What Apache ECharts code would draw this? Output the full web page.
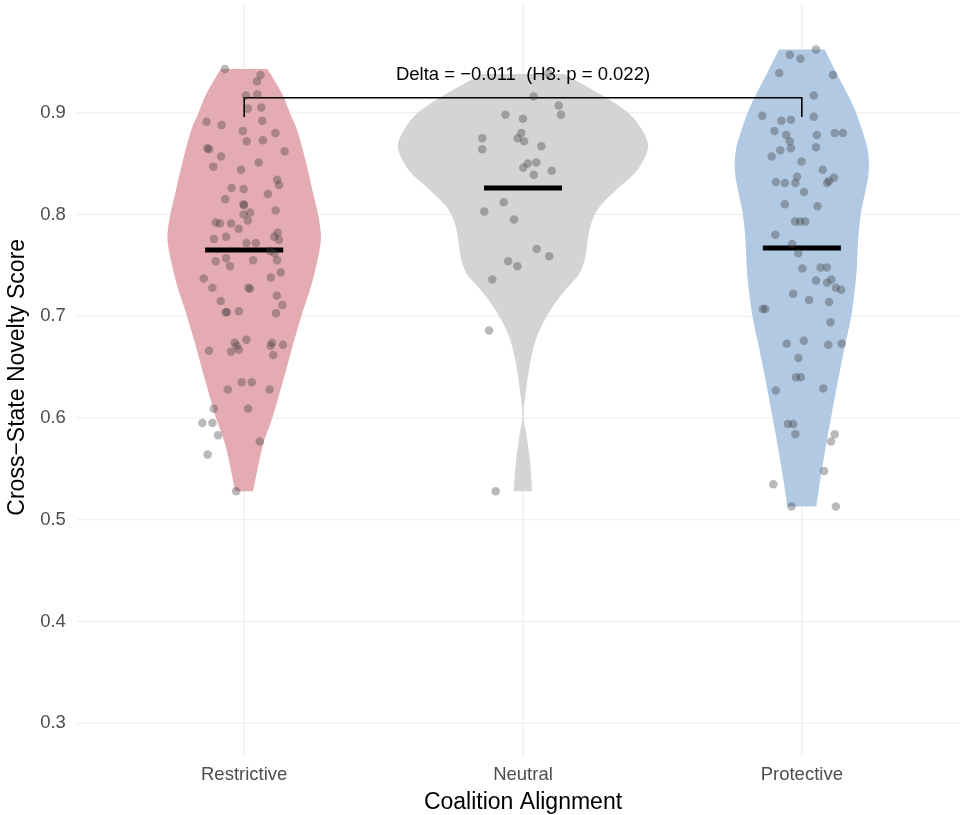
<!DOCTYPE html>
<html><head><meta charset="utf-8">
<script src="https://cdn.jsdelivr.net/npm/echarts@6/dist/echarts.min.js"></script>
<style>html,body{margin:0;padding:0;background:#fff}#c{width:960px;height:815px}</style>
</head><body><div id="c"></div>
<script>
const categories = ['Restrictive', 'Neutral', 'Protective'];
const yTicks = [0.3, 0.4, 0.5, 0.6, 0.7, 0.8, 0.9];
const medians = [0.765, 0.826, 0.767];
const fills = ['#E4ABB3', '#D4D4D4', '#B1C9E2'];

// violin outlines: [y, half width in category units]
const violinRestrictive = [[0.943,0.084],[0.919,0.135],[0.899,0.165],[0.886,0.186],[0.870,0.204],[0.854,0.219],[0.837,0.234],[0.821,0.247],[0.800,0.265],[0.781,0.275],[0.768,0.272],[0.755,0.263],[0.740,0.250],[0.726,0.236],[0.700,0.205],[0.670,0.173],[0.637,0.140],[0.601,0.102],[0.572,0.066],[0.528,0.032]];
const violinNeutral = [[0.938,0.147],[0.916,0.291],[0.900,0.377],[0.885,0.423],[0.870,0.448],[0.860,0.443],[0.850,0.425],[0.840,0.399],[0.824,0.334],[0.808,0.276],[0.795,0.250],[0.780,0.235],[0.762,0.226],[0.749,0.214],[0.740,0.198],[0.733,0.175],[0.719,0.131],[0.700,0.085],[0.680,0.050],[0.660,0.030],[0.647,0.021],[0.621,0.008],[0.601,0.002],[0.582,0.013],[0.555,0.026],[0.528,0.033]];
const violinProtective = [[0.962,0.082],[0.939,0.124],[0.916,0.168],[0.899,0.196],[0.873,0.228],[0.862,0.237],[0.850,0.241],[0.837,0.238],[0.824,0.229],[0.801,0.212],[0.775,0.202],[0.742,0.196],[0.703,0.179],[0.670,0.154],[0.637,0.130],[0.605,0.108],[0.572,0.086],[0.539,0.066],[0.513,0.052]];

// jittered points: [horizontal jitter, score]
const pointsRestrictive = [[-0.069,0.943],[0.059,0.937],[0.046,0.931],[0.006,0.917],[0.047,0.918],[0.013,0.904],[0.061,0.905],[-0.135,0.891],[-0.081,0.888],[0.065,0.892],[-0.005,0.882],[0.112,0.880],[0.009,0.872],[0.067,0.873],[-0.132,0.865],[-0.126,0.864],[-0.083,0.857],[0.145,0.862],[0.052,0.851],[-0.111,0.847],[-0.011,0.844],[0.118,0.834],[0.125,0.829],[-0.045,0.826],[-0.002,0.825],[-0.068,0.815],[0.085,0.820],[-0.002,0.810],[-0.001,0.809],[0.113,0.804],[-0.002,0.800],[0.021,0.802],[0.013,0.794],[-0.102,0.792],[-0.087,0.791],[-0.047,0.791],[-0.020,0.786],[0.120,0.782],[0.108,0.778],[0.125,0.775],[-0.109,0.776],[-0.065,0.778],[0.008,0.772],[0.042,0.772],[0.093,0.764],[0.109,0.762],[-0.102,0.754],[-0.065,0.757],[-0.051,0.749],[0.032,0.755],[0.118,0.755],[0.131,0.743],[0.096,0.738],[-0.145,0.737],[-0.114,0.728],[0.015,0.728],[0.021,0.727],[0.117,0.720],[0.137,0.711],[-0.084,0.715],[-0.066,0.704],[-0.062,0.704],[-0.019,0.705],[0.114,0.703],[0.008,0.677],[-0.034,0.674],[-0.027,0.671],[-0.019,0.667],[-0.047,0.665],[-0.126,0.666],[0.100,0.674],[0.095,0.671],[0.139,0.672],[0.104,0.662],[-0.009,0.635],[0.027,0.635],[-0.059,0.628],[0.091,0.628],[-0.109,0.609],[0.014,0.609],[-0.150,0.595],[-0.114,0.595],[-0.094,0.583],[0.056,0.577],[-0.131,0.564],[-0.029,0.528]];
const pointsNeutral = [[0.091,0.939],[0.038,0.916],[0.128,0.907],[0.136,0.898],[-0.063,0.898],[0.000,0.894],[-0.146,0.875],[-0.146,0.864],[-0.006,0.880],[-0.019,0.875],[0.004,0.872],[0.066,0.867],[0.017,0.850],[0.048,0.851],[0.001,0.846],[0.103,0.843],[0.039,0.839],[-0.069,0.812],[-0.139,0.803],[-0.032,0.795],[0.049,0.766],[0.094,0.759],[-0.053,0.754],[-0.020,0.749],[-0.110,0.736],[-0.122,0.686],[-0.098,0.528]];
const pointsProtective = [[0.051,0.962],[-0.043,0.957],[-0.005,0.953],[-0.081,0.939],[0.112,0.937],[0.043,0.917],[-0.142,0.897],[-0.073,0.892],[-0.039,0.893],[0.043,0.896],[-0.098,0.882],[-0.056,0.878],[0.054,0.878],[0.118,0.880],[0.147,0.880],[-0.043,0.872],[-0.039,0.865],[-0.077,0.863],[0.051,0.866],[-0.108,0.857],[-0.001,0.852],[0.075,0.844],[-0.017,0.837],[-0.093,0.832],[-0.061,0.831],[-0.023,0.831],[0.091,0.831],[0.097,0.833],[0.115,0.836],[0.008,0.822],[-0.061,0.810],[0.056,0.808],[-0.024,0.793],[-0.006,0.793],[0.012,0.793],[-0.095,0.780],[-0.035,0.771],[-0.013,0.762],[0.002,0.747],[0.067,0.748],[0.090,0.748],[0.051,0.735],[0.091,0.733],[0.106,0.736],[0.122,0.728],[0.141,0.726],[-0.031,0.722],[0.026,0.716],[0.098,0.714],[-0.140,0.707],[-0.131,0.707],[0.103,0.694],[-0.054,0.673],[0.007,0.676],[0.095,0.672],[0.143,0.673],[-0.012,0.659],[-0.021,0.640],[-0.004,0.640],[-0.093,0.627],[0.077,0.629],[-0.050,0.594],[-0.031,0.594],[-0.023,0.584],[0.118,0.584],[0.105,0.577],[0.080,0.548],[-0.102,0.535],[-0.037,0.513],[0.122,0.513]];

const annotationText = 'Delta = \u22120.011  (H3: p = 0.022)';
const bracketY = 0.9147, bracketTickY = 0.8958, annotationY = 0.937;
const medianHalfWidth = 0.14;
const xMin = 0.4, xMax = 3.6, yMin = 0.28, yMax = 1.0;
const panelYMin = 0.267, panelYMax = 1.006;
const FONT = '"Liberation Sans", Arial, Helvetica, sans-serif';

const violins = [violinRestrictive, violinNeutral, violinProtective];
const pointSets = [pointsRestrictive, pointsNeutral, pointsProtective];

const chart = echarts.init(document.getElementById('c'), null, {renderer: 'canvas'});
const series = [];

// horizontal grid lines
series.push({
  type: 'custom', silent: true, clip: false,
  data: yTicks.map(v => [v]),
  renderItem: (p, api) => {
    const a = api.coord([xMin, api.value(0)]), b = api.coord([xMax, api.value(0)]);
    return {type: 'line', shape: {x1: a[0], y1: a[1], x2: b[0], y2: b[1]}, style: {stroke: '#EBEBEB', lineWidth: 1.1}};
  }
});
// vertical grid lines
series.push({
  type: 'custom', silent: true, clip: false,
  data: categories.map((c, i) => [i + 1]),
  renderItem: (p, api) => {
    const a = api.coord([api.value(0), panelYMin]), b = api.coord([api.value(0), panelYMax]);
    return {type: 'line', shape: {x1: a[0], y1: a[1], x2: b[0], y2: b[1]}, style: {stroke: '#EBEBEB', lineWidth: 1.1}};
  }
});
// violins: two smoothed sides (open polylines keep flat ends sharp) filled as one path
violins.forEach((prof, gi) => {
  const cat = gi + 1;
  series.push({
    type: 'custom', silent: true, clip: false,
    data: prof,
    renderItem: (p, api) => {
      if (p.dataIndex !== 0) return null;
      const right = prof.map(r => api.coord([cat + r[1], r[0]]));
      const left = prof.map(r => api.coord([cat - r[1], r[0]]));
      const seg = pts => {
        // Catmull-Rom to cubic bezier, open curve
        let d = '';
        for (let i = 0; i < pts.length - 1; i++) {
          const p0 = pts[Math.max(i - 1, 0)], p1 = pts[i], p2 = pts[i + 1], p3 = pts[Math.min(i + 2, pts.length - 1)];
          const c1 = [p1[0] + (p2[0] - p0[0]) / 6, p1[1] + (p2[1] - p0[1]) / 6];
          const c2 = [p2[0] - (p3[0] - p1[0]) / 6, p2[1] - (p3[1] - p1[1]) / 6];
          d += ' C' + c1[0] + ',' + c1[1] + ' ' + c2[0] + ',' + c2[1] + ' ' + p2[0] + ',' + p2[1];
        }
        return d;
      };
      const leftRev = left.slice().reverse();
      const path = 'M' + right[0][0] + ',' + right[0][1] + seg(right) +
        ' L' + leftRev[0][0] + ',' + leftRev[0][1] + seg(leftRev) + ' Z';
      return {type: 'path', shape: {pathData: path}, style: {fill: fills[gi], stroke: null}};
    }
  });
});
// points
pointSets.forEach((pts, gi) => {
  series.push({
    type: 'scatter', silent: true,
    data: pts.map(d => [gi + 1 + d[0], d[1]]),
    symbolSize: 8.5,
    itemStyle: {color: 'rgba(60,60,60,0.45)'}
  });
});
// median bars
series.push({
  type: 'custom', silent: true, clip: false,
  data: medians.map((m, i) => [i + 1, m]),
  renderItem: (p, api) => {
    const a = api.coord([api.value(0) - medianHalfWidth, api.value(1)]);
    const b = api.coord([api.value(0) + medianHalfWidth, api.value(1)]);
    return {type: 'line', shape: {x1: a[0], y1: a[1], x2: b[0], y2: b[1]}, style: {stroke: '#000', lineWidth: 5, lineCap: 'butt'}};
  }
});
// bracket + annotation
series.push({
  type: 'custom', silent: true, clip: false,
  data: [[1, 3]],
  renderItem: (p, api) => {
    const p1 = api.coord([api.value(0), bracketTickY]);
    const p2 = api.coord([api.value(0), bracketY]);
    const p3 = api.coord([api.value(1), bracketY]);
    const p4 = api.coord([api.value(1), bracketTickY]);
    const t = api.coord([(api.value(0) + api.value(1)) / 2, annotationY]);
    return {type: 'group', children: [
      {type: 'polyline', shape: {points: [p1, p2, p3, p4]}, style: {stroke: '#000', lineWidth: 1.6, fill: null}},
      {type: 'text', x: t[0], y: t[1], style: {text: annotationText, align: 'center', verticalAlign: 'middle', fill: '#000', font: '18.5px ' + FONT}}
    ]};
  }
});

chart.setOption({
  animation: false,
  backgroundColor: '#fff',
  textStyle: {fontFamily: FONT},
  grid: {left: 76.9, top: 10.93, width: 892.2, height: 732.7, containLabel: false, outerBoundsMode: 'none'},
  xAxis: {
    type: 'value', min: xMin, max: xMax, interval: 0.2,
    axisLine: {show: false}, axisTick: {show: false}, splitLine: {show: false},
    axisLabel: {
      margin: 22, color: '#4D4D4D', fontSize: 18.5, fontFamily: FONT,
      showMinLabel: true, showMaxLabel: true,
      formatter: v => { const r = Math.round(v); return (Math.abs(v - r) < 1e-6 && r >= 1 && r <= 3) ? categories[r - 1] : ''; }
    },
    name: 'Coalition Alignment', nameLocation: 'middle', nameGap: 48,
    nameTextStyle: {fontSize: 23, color: '#000', fontFamily: FONT}
  },
  yAxis: {
    type: 'value', min: yMin, max: yMax, interval: 0.02,
    axisLine: {show: false}, axisTick: {show: false}, splitLine: {show: false},
    axisLabel: {
      margin: 11, color: '#4D4D4D', fontSize: 18.5, fontFamily: FONT,
      formatter: v => { const t = Math.round(v * 10); return (Math.abs(v * 10 - t) < 1e-6 && yTicks.some(y => Math.abs(y - v) < 1e-6)) ? v.toFixed(1) : ''; }
    },
    name: 'Cross\u2212State Novelty Score', nameLocation: 'middle', nameGap: 40, nameRotate: 90,
    nameTextStyle: {fontSize: 23, color: '#000', fontFamily: FONT}
  },
  series: series
});
</script></body></html>
